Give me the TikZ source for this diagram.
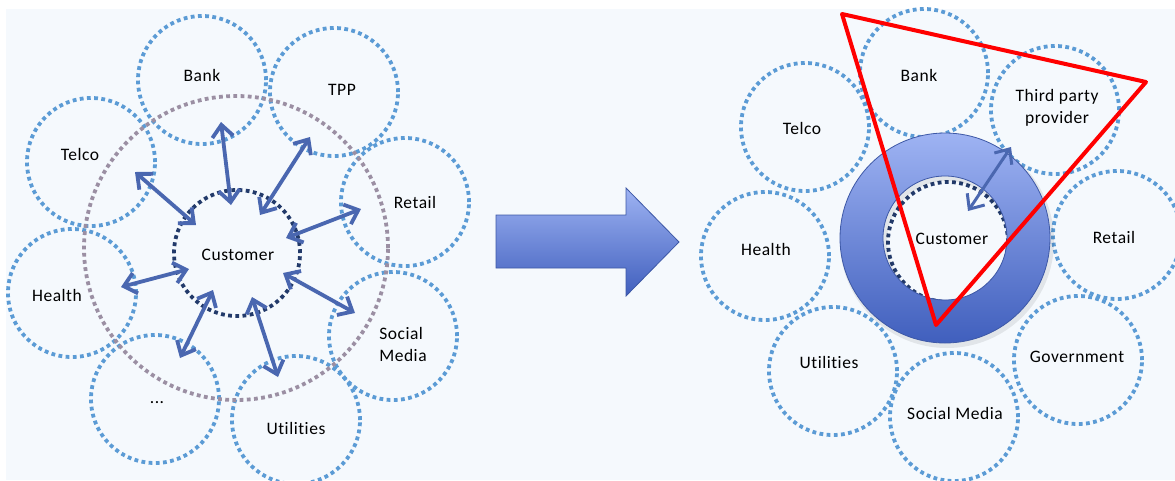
\documentclass[tikz,border=0pt]{standalone}
\usepackage{fontspec}
\setmainfont{Carlito}[Ligatures={NoCommon}, LetterSpace=3]
\usepackage{xcolor}
\usetikzlibrary{arrows.meta, positioning, calc}

\definecolor{bgblue}{HTML}{F5F9FD}
\definecolor{partyblue}{HTML}{5B9BD5}
\definecolor{orbitgrey}{HTML}{9B8FA3}
\definecolor{custnavy}{HTML}{223A6A}
\definecolor{linkblue}{HTML}{4A67B0}
\definecolor{ringtop}{HTML}{9EB3F3}
\definecolor{ringbot}{HTML}{405FBD}
\definecolor{ringedge}{HTML}{3D58A6}

\tikzset{
  party/.style={circle, draw=partyblue, line width=3.8pt, dash pattern=on 3.8pt off 3.4pt, minimum size=128pt, inner sep=0pt},
  lbl/.style={font=\fontsize{17.5}{22}\selectfont, text=black, inner sep=0pt},
  link/.style={{Straight Barb[length=12pt,width=21pt]}-{Straight Barb[length=12pt,width=21pt]}, linkblue, line width=3.8pt}
}

\begin{document}
\begin{tikzpicture}[x=1pt, y=-1pt]
\useasboundingbox (0,0) rectangle (1175,480);
\clip (0,0) rectangle (1175,480);
\fill[bgblue] (6,9) rectangle (1175,480);

% Before (left)
\foreach \name/\x/\y in {bank/202/80, tpp/334/92, telco/91/162, retail/405/202,
                         health/72/293, social/393/336, more/155/399, util/296/420}
  \node[party] (L\name) at (\x,\y) {};
\node[circle, draw=orbitgrey, line width=3.8pt, dash pattern=on 3.8pt off 3.4pt,
      minimum size=304pt, inner sep=0pt] (orbit) at (236,248) {};
\node[circle, draw=custnavy, line width=3.8pt, dash pattern=on 3.8pt off 3.4pt,
      minimum size=126pt, inner sep=0pt] (Lcust) at (237,253) {};

\node[lbl] (Lbank-t) at (202,75) {Bank};
\node[lbl] (Ltpp-t) at (342,90) {TPP};
\node[lbl] (Ltelco-t) at (80,154) {Telco};
\node[lbl] (Lretail-t) at (415,202) {Retail};
\node[lbl] (Lhealth-t) at (57,295) {Health};
\node[lbl, align=left] (Lsocial-t) at (403,344) {Social\\Media};
\node[lbl] (Lmore-t) at (157,403) {...};
\node[lbl] (Lutil-t) at (296,428) {Utilities};
\node[lbl] (Lcust-t) at (238,255) {Customer};

\foreach \i/\ax/\ay/\bx/\by in {1/221/122/231/205, 2/310/137/260/215, 3/361/209/286/238,
                                4/355/313/283/273, 5/278/377/252/297, 6/180/358/213/290,
                                7/121/287/189/269, 8/135/172/196/225} {
  \coordinate (out\i) at (\ax,\ay);
  \coordinate (in\i) at (\bx,\by);
  \draw[link] (out\i) -- (in\i);
}

% Arrow
\shade[top color=ringtop, bottom color=ringbot, draw=ringedge, line width=0.8pt]
  (496,215) -- (626,215) -- (626,188) -- (679,242) -- (626,296) -- (626,268) -- (496,268) -- cycle;

% After (right)
\foreach \name/\x/\y in {bank/924/73, tpp/1055/110, telco/805/127, health/765/256,
                         retail/1117/235, util/833/371, social/954/417, gov/1078/360}
  \node[party] (R\name) at (\x,\y) {};

\node[circle, draw=custnavy, line width=3.8pt, dash pattern=on 3.8pt off 3.4pt,
      minimum size=120pt, inner sep=0pt] (Rcust) at (948,242) {};
\coordinate (ringc) at (945,238);
\fill[black, opacity=0.08, even odd rule] ($(ringc)+(2,3)$) circle (107) ($(ringc)+(2,3)$) circle (60);
\shade[top color=ringtop, bottom color=ringbot, draw=ringedge, line width=0.8pt, even odd rule]
  (ringc) circle (105) (ringc) circle (62);

\node[lbl] (Rbank-t) at (919,75) {Bank};
\node[lbl, align=center] (Rtpp-t) at (1057,108) {Third party\\provider};
\node[lbl] (Rtelco-t) at (802,128) {Telco};
\node[lbl] (Rhealth-t) at (766,249) {Health};
\node[lbl] (Rretail-t) at (1114,237) {Retail};
\node[lbl] (Rutil-t) at (829,362) {Utilities};
\node[lbl] (Rsocial-t) at (955,413) {Social Media};
\node[lbl] (Rgov-t) at (1077,357) {Government};
\node[lbl] (Rcust-t) at (952,239) {Customer};

\coordinate (tpplink) at (1011,147);
\coordinate (custlink) at (968,211);
\draw[link, line width=3pt] (tpplink) -- (custlink);

% Red triangle
\coordinate (t1) at (842,14);
\coordinate (t2) at (1146,82);
\coordinate (t3) at (936,325);
\draw[red, line width=4pt, line join=round] (t1) -- (t2) -- (t3) -- cycle;
\end{tikzpicture}
\end{document}
